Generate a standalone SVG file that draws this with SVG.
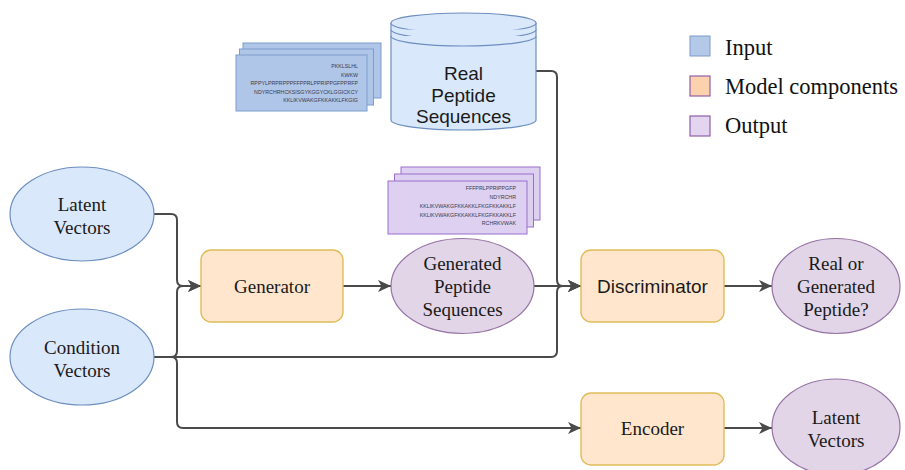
<svg xmlns="http://www.w3.org/2000/svg" width="905" height="470" viewBox="0 0 905 470">
<style>
.in{fill:#dae8fc;stroke:#6c8ebf;stroke-width:1.2}
.out{fill:#e1d5e7;stroke:#9673a6;stroke-width:1.2}
.mod{fill:#ffe6cc;stroke:#e0bd5a;stroke-width:1.4}
.serif{font-family:"Liberation Serif","Times New Roman",serif;font-size:19px;fill:#1a1a1a;text-anchor:middle}
.sans{font-family:"Liberation Sans",Arial,sans-serif;font-size:19px;fill:#1a1a1a;text-anchor:middle}
.seq{font-family:"Liberation Sans",Arial,sans-serif;font-size:5.3px;fill:#3a3a4a;text-anchor:end}
.bcard{fill:#b0c6e8;stroke:#7d9ccc;stroke-width:1}
.pcard{fill:#ddd0f0;stroke:#9a6fcc;stroke-width:1}
.edge{fill:none;stroke:#4a4a4a;stroke-width:2}
.leg{font-family:"Liberation Serif","Times New Roman",serif;font-size:22.5px;fill:#111}
</style>
<defs>
<marker id="arr" markerUnits="userSpaceOnUse" markerWidth="13" markerHeight="12" refX="13" refY="6" orient="auto">
<path d="M0,0 L13,6 L0,12 L3.5,6 Z" fill="#4a4a4a"/>
</marker>
</defs>

<g id="connectors">
<path class="edge" d="M154,214 H171 Q177,214 177,220 V280 Q177,286 183,286 H201" marker-end="url(#arr)"/>
<path class="edge" d="M154,357 H171 Q177,357 177,351 V292 Q177,286 183,286 H201" marker-end="url(#arr)"/>
<path class="edge" d="M154,357 H171 Q177,357 177,363 V422 Q177,428 183,428 H581" marker-end="url(#arr)"/>
<path class="edge" d="M154,357 H551 Q557,357 557,351 V292 Q557,286 563,286 H581" marker-end="url(#arr)"/>
<path class="edge" d="M536,71 H551 Q557,71 557,77 V280 Q557,286 563,286 H581" marker-end="url(#arr)"/>
<path class="edge" d="M343,286 H391" marker-end="url(#arr)"/>
<path class="edge" d="M534,286 H581" marker-end="url(#arr)"/>
<path class="edge" d="M724,286 H772" marker-end="url(#arr)"/>
<path class="edge" d="M724,428 H772" marker-end="url(#arr)"/>
</g>

<g id="real-seq-cards">
<rect class="bcard" x="243" y="43" width="138" height="55"/>
<rect class="bcard" x="239.5" y="49" width="134" height="56"/>
<rect class="bcard" x="236" y="55" width="131" height="56"/>
<text class="seq" x="358" y="68">PKKLSLHL</text>
<text class="seq" x="358" y="76.5">KWKW</text>
<text class="seq" x="358" y="85">RPPYLPRPRPPPFFPPRLPPRIPPGFPPRFP</text>
<text class="seq" x="358" y="93.5">NDYRCHRHCKSISGYKGGYCKLGGICKCY</text>
<text class="seq" x="358" y="102">KKLIKVWAKGFKKAKKLFKGIG</text>
</g>

<g id="real-peptide-sequences">
<path class="in" d="M391,23 V120 A72.5,10 0 0 0 536,120 V23"/>
<ellipse class="in" cx="463.5" cy="23" rx="72.5" ry="10"/>
<path class="in" d="M391,29.5 A72.5,10 0 0 0 536,29.5" fill="none"/>
<path class="in" d="M391,36 A72.5,10 0 0 0 536,36" fill="none"/>
<text class="sans" x="463.5" y="80">Real</text>
<text class="sans" x="463.5" y="101.5">Peptide</text>
<text class="sans" x="463.5" y="123">Sequences</text>
</g>

<g id="gen-seq-cards">
<rect class="pcard" x="401" y="167" width="139" height="53"/>
<rect class="pcard" x="394.5" y="174" width="139" height="53"/>
<rect class="pcard" x="388" y="181" width="139" height="53"/>
<text class="seq" x="516" y="190">FFFPRLPPRIPPGFP</text>
<text class="seq" x="516" y="198.5">NDYRCHR</text>
<text class="seq" x="516" y="207.5">KKLIKVWAKGFKKAKKLFKGFKKAKKLF</text>
<text class="seq" x="516" y="216.5">KKLIKVWAKGFKKAKKLFKGFKKAKKLF</text>
<text class="seq" x="516" y="225">RCHRKVWAK</text>
</g>

<g id="legend">
<rect x="690" y="36" width="20" height="20" fill="#b4c8e8" stroke="#7d9ccc" stroke-width="1"/>
<text class="leg" x="725" y="55">Input</text>
<rect x="690" y="76" width="20" height="20" fill="#fcd1ad" stroke="#8f5fa8" stroke-width="1.2"/>
<text class="leg" x="725" y="94">Model components</text>
<rect x="690" y="116" width="20" height="20" fill="#e3d4ef" stroke="#8f5fa8" stroke-width="1.2"/>
<text class="leg" x="725" y="133">Output</text>
</g>

<g id="latent-vectors-in">
<ellipse class="in" cx="82" cy="214" rx="72" ry="47"/>
<text class="serif" x="82" y="211">Latent</text>
<text class="serif" x="82" y="234">Vectors</text>
</g>

<g id="condition-vectors">
<ellipse class="in" cx="82" cy="357" rx="72" ry="48"/>
<text class="serif" x="82" y="354">Condition</text>
<text class="serif" x="82" y="377">Vectors</text>
</g>

<g id="generator">
<rect class="mod" x="201" y="250" width="142" height="72" rx="10"/>
<text class="serif" x="272" y="292.5">Generator</text>
</g>

<g id="generated-peptide-sequences">
<ellipse class="out" cx="462.5" cy="286" rx="71.5" ry="47.5"/>
<text class="serif" x="462.5" y="270">Generated</text>
<text class="serif" x="462.5" y="293">Peptide</text>
<text class="serif" x="462.5" y="316">Sequences</text>
</g>

<g id="discriminator">
<rect class="mod" x="581" y="250" width="143" height="72" rx="10"/>
<text class="sans" x="652.5" y="293">Discriminator</text>
</g>

<g id="real-or-generated">
<ellipse class="out" cx="836" cy="286" rx="64" ry="47.5"/>
<text class="serif" x="836" y="270">Real or</text>
<text class="serif" x="836" y="293">Generated</text>
<text class="serif" x="836" y="316">Peptide?</text>
</g>

<g id="encoder">
<rect class="mod" x="581" y="393" width="143" height="72" rx="10"/>
<text class="serif" x="652.5" y="435">Encoder</text>
</g>

<g id="latent-vectors-out">
<ellipse class="out" cx="836" cy="427" rx="64" ry="48"/>
<text class="serif" x="836" y="424">Latent</text>
<text class="serif" x="836" y="447">Vectors</text>
</g>
</svg>
